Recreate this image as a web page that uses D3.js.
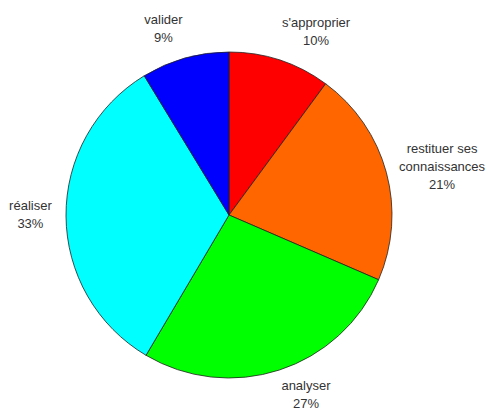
<!DOCTYPE html>
<html>
<head>
<meta charset="utf-8">
<script src="https://cdn.jsdelivr.net/npm/d3@7"></script>
<style>
  body { margin: 0; background: #fff; }
  text { font-family: "Liberation Sans", Arial, sans-serif; font-size: 13px; fill: #333; }
</style>
</head>
<body>
<div class="d3"></div>
<script>
// slices, clockwise from 12 o'clock
var labels = ["s'approprier", "restituer ses\nconnaissances", "analyser", "réaliser", "valider"];
var values = [10.1, 21.4, 27.0, 32.8, 8.7];
var colors = ["#ff0000", "#ff6600", "#00ff00", "#00ffff", "#0000ff"];

var w = 488, h = 409;
var cx = 229, cy = 215, r = 163;

var svg = d3.select(".d3")
	.append("svg")
	.attr("width", w)
	.attr("height", h);

var data = labels.map((l, i) => ({label: l, value: values[i], color: colors[i]}));

var pie = d3.pie()
	.sort(null)
	.value(d => d.value);

var arc = d3.arc()
	.innerRadius(0)
	.outerRadius(r);

var g = svg.append("g")
	.attr("transform", "translate(" + cx + "," + cy + ")");

var arcs = pie(data);

g.selectAll("path")
	.data(arcs)
	.enter()
	.append("path")
	.attr("d", arc)
	.attr("fill", d => d.data.color)
	.attr("stroke", "#222")
	.attr("stroke-width", 0.8);

// labels at 1.1 r, aligned like matlab's pie
var lineH = 18;
arcs.forEach(d => {
	var a = (d.startAngle + d.endAngle) / 2;
	var x = Math.sin(a) * r * 1.1;
	var y = -Math.cos(a) * r * 1.1;
	var lines = d.data.label.split("\n");
	lines.push(Math.round(d.data.value) + "%");
	var n = lines.length;
	var base0; // baseline of first line
	if (Math.abs(Math.cos(a)) < 0.45) base0 = y - (n - 1) * lineH / 2 + 3;
	else if (y < 0) base0 = y - (n - 1) * lineH;
	else base0 = y + 4;
	var t = g.append("text")
		.attr("text-anchor", "middle");
	// block width decides the center so the block touches the anchor
	var maxW = 0;
	var tmp = g.append("text");
	lines.forEach(s => { tmp.text(s); maxW = Math.max(maxW, tmp.node().getComputedTextLength()); });
	tmp.remove();
	var xc = x >= 0 ? x - 3 + maxW / 2 : x + 2 - maxW / 2;
	lines.forEach((s, i) => {
		t.append("tspan")
			.attr("x", xc)
			.attr("y", base0 + i * lineH)
			.text(s);
	});
});
</script>
</body>
</html>
